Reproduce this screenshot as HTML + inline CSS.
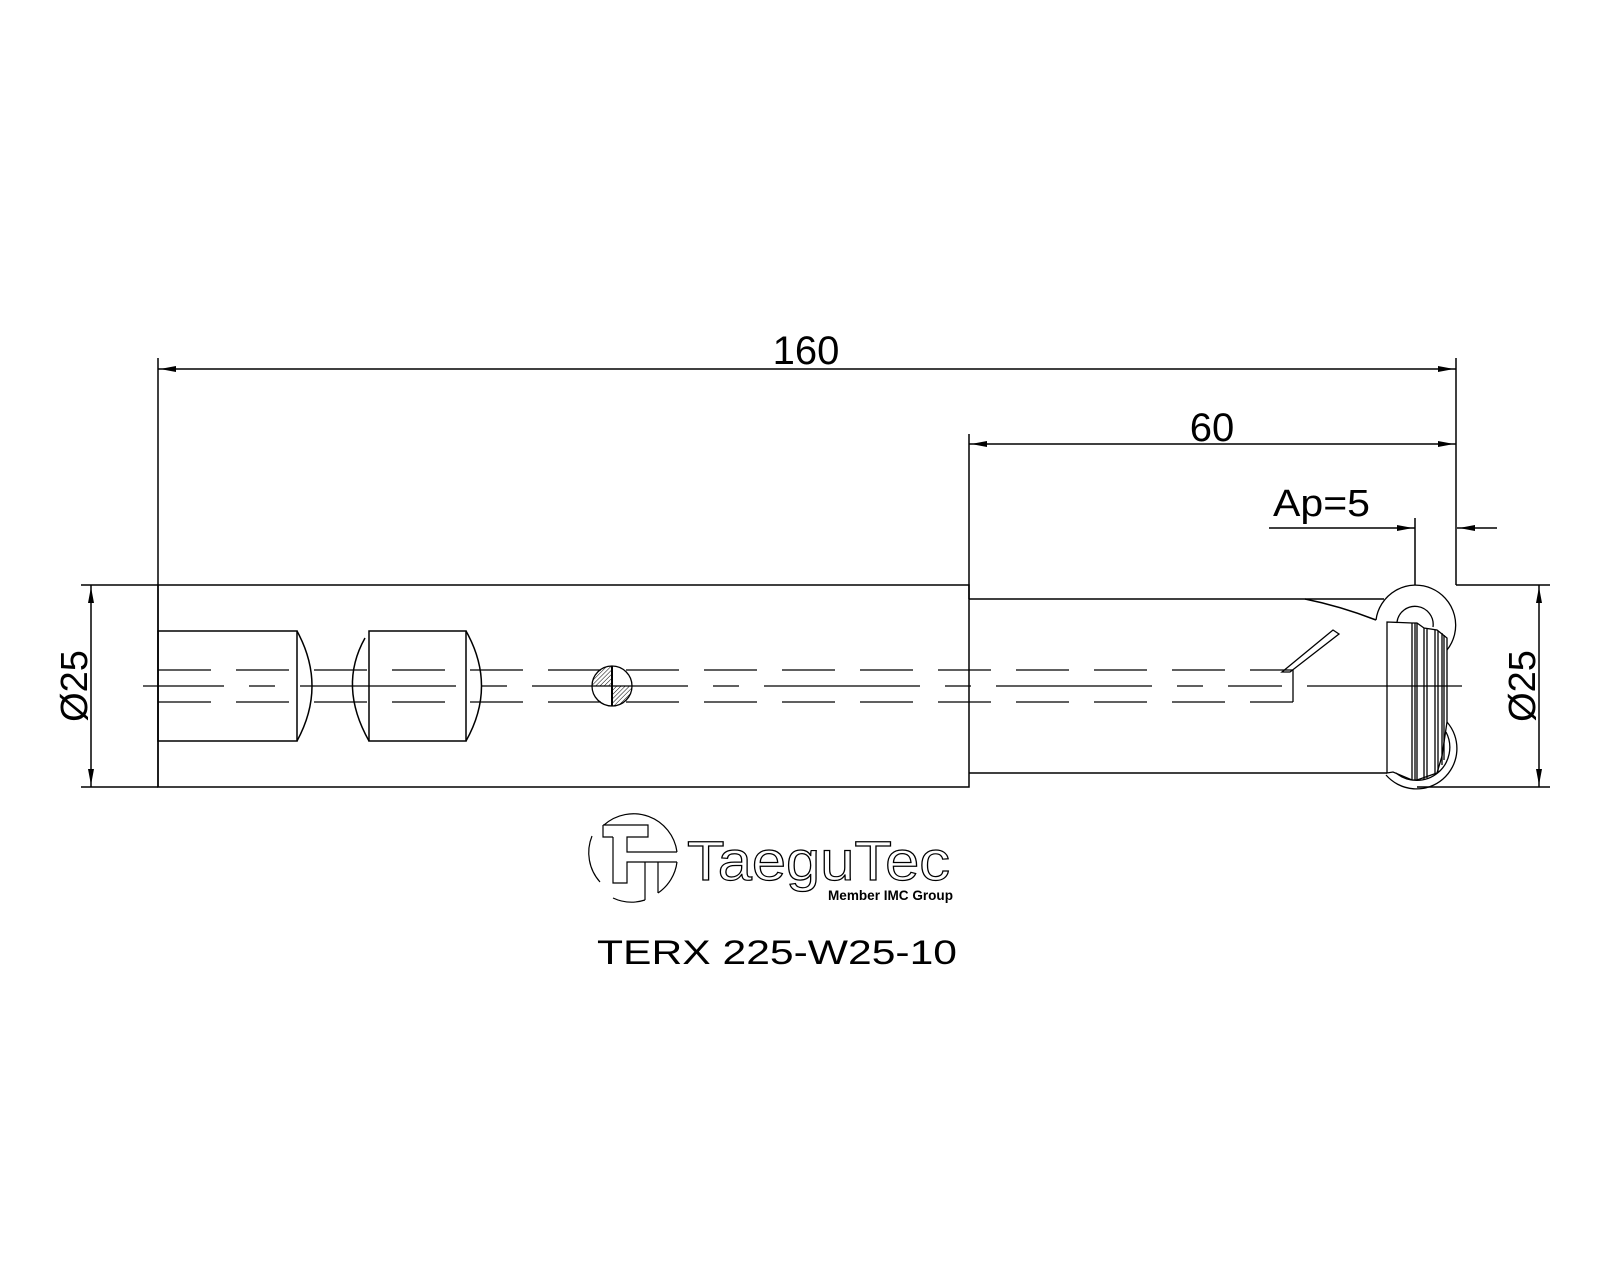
<!DOCTYPE html>
<html><head><meta charset="utf-8"><style>
html,body{margin:0;padding:0;background:#fff;}
svg{display:block;}
text{font-family:"Liberation Sans",Arial,sans-serif;fill:#000;}
</style></head><body>
<svg width="1600" height="1280" viewBox="0 0 1600 1280" xmlns="http://www.w3.org/2000/svg">
<defs>
<pattern id="h" width="3" height="3" patternUnits="userSpaceOnUse" patternTransform="rotate(45)">
<line x1="0" y1="0" x2="0" y2="3" stroke="#000" stroke-width="1"/>
</pattern>
</defs>
<g stroke="#000" stroke-width="1.5" fill="none">
<line x1="158" y1="358" x2="158" y2="787"/>
<line x1="158" y1="369" x2="1456" y2="369"/>
<line x1="1456" y1="358" x2="1456" y2="585"/>
<line x1="1456" y1="585" x2="1550" y2="585"/>
<line x1="969" y1="434" x2="969" y2="599"/>
<line x1="969" y1="444" x2="1456" y2="444"/>
<line x1="1269" y1="528" x2="1415" y2="528"/>
<line x1="1415" y1="518" x2="1415" y2="585"/>
<line x1="1457" y1="528" x2="1497" y2="528"/>
<line x1="81" y1="585" x2="158" y2="585"/>
<line x1="81" y1="787" x2="158" y2="787"/>
<line x1="91" y1="585" x2="91" y2="787"/>
<line x1="1417" y1="787" x2="1550" y2="787"/>
<line x1="1539" y1="585" x2="1539" y2="787"/>
<rect x="158" y="585" width="811" height="202"/>
<line x1="969" y1="599" x2="1384" y2="599"/>
<line x1="969" y1="773" x2="1387" y2="773"/>
<path d="M1305,599 Q1340,606 1376,620"/>
<rect x="158" y="631" width="139" height="110"/>
<path d="M297,631 Q327,686 297,741"/>
<rect x="369" y="631" width="97" height="110"/>
<path d="M369,741 Q338,686 365,638"/>
<path d="M466,631 Q497,686 466,741"/>
</g>
<g stroke="#000" stroke-width="1.3" fill="none">
<line x1="158" y1="670" x2="1293" y2="670" stroke-dasharray="53 25"/>
<line x1="158" y1="702" x2="1293" y2="702" stroke-dasharray="53 25"/>
<line x1="1293" y1="670" x2="1293" y2="702"/>
<line x1="143" y1="686" x2="1282" y2="686" stroke-dasharray="156 25 26 25" stroke-dashoffset="75"/>
<line x1="1307" y1="686" x2="1462" y2="686"/>
</g>
<path d="M612,686 L592,686 A20,20 0 0 1 612,666 Z" fill="url(#h)" stroke="none"/>
<path d="M612,686 L632,686 A20,20 0 0 1 612,706 Z" fill="url(#h)" stroke="none"/>
<circle cx="612" cy="686" r="20" fill="none" stroke="#000" stroke-width="1.3"/>
<line x1="612" y1="666" x2="612" y2="706" stroke="#000" stroke-width="2"/>
<g stroke="#000" stroke-width="1.3" fill="none">
<path d="M1282,672 L1333,630 L1339,634 L1290,672 Z"/>
<path d="M1376,620 A40,40 0 1 1 1447,650"/>
<path d="M1397,622 A18,18 0 1 1 1433,627"/>
<path d="M1447,722 A40,40 0 0 1 1386,775"/>
<path d="M1446,732 A33,33 0 0 1 1396,773"/>
<path d="M1387,622 L1412,623 L1417,623 L1424,628 L1437,630 L1447,638 L1447,722 L1442,756 L1437,773 L1417,780 L1412,780 L1393,772 L1387,773 Z"/>
<line x1="1412" y1="623" x2="1412" y2="780"/>
<line x1="1415" y1="623" x2="1415" y2="780"/>
<line x1="1417" y1="623" x2="1417" y2="780"/>
<line x1="1424" y1="628" x2="1424" y2="779"/>
<line x1="1427" y1="629" x2="1427" y2="778"/>
<line x1="1435" y1="630" x2="1435" y2="774"/>
<line x1="1438" y1="631" x2="1438" y2="772"/>
<line x1="1442" y1="633" x2="1442" y2="765"/>
<line x1="1444" y1="635" x2="1444" y2="760"/>
</g>
<g fill="#000">
<polygon points="160,369 176,366 176,372"/>
<polygon points="1454,369 1438,366 1438,372"/>
<polygon points="971,444 987,441 987,447"/>
<polygon points="1454,444 1438,441 1438,447"/>
<polygon points="1413,528 1397,525 1397,531"/>
<polygon points="1459,528 1475,525 1475,531"/>
<polygon points="91,587 88,603 94,603"/>
<polygon points="91,785 88,769 94,769"/>
<polygon points="1539,587 1536,603 1542,603"/>
<polygon points="1539,785 1536,769 1542,769"/>
</g>
<text x="806" y="364" font-size="40" text-anchor="middle">160</text>
<text x="1212" y="441" font-size="40" text-anchor="middle">60</text>
<text x="1273" y="516" font-size="38" textLength="97" lengthAdjust="spacingAndGlyphs">Ap=5</text>
<text transform="translate(87,686) rotate(-90)" font-size="38" text-anchor="middle">Ø25</text>
<text transform="translate(1535,686) rotate(-90)" font-size="38" text-anchor="middle">Ø25</text>
<g stroke="#000" stroke-width="1.2" fill="none">
<path d="M604,825 A44,44 0 0 1 677,852"/>
<path d="M677,862 A44,44 0 0 1 658,893"/>
<path d="M645,900 A44,44 0 0 1 613,898"/>
<path d="M600,882 A44,44 0 0 1 592,836"/>
<polyline points="603,825 648,825 648,837 627,837 627,852 677,852"/>
<polyline points="613,837 613,883 627,883 627,862 677,862"/>
<polyline points="645,862 645,900"/>
<polyline points="658,862 658,893"/>
<polyline points="603,825 603,837 613,837"/>
</g>
<text x="687" y="880" font-size="56" stroke="#000" stroke-width="1.2" textLength="263" lengthAdjust="spacingAndGlyphs" style="fill:#fff">TaeguTec</text>
<text x="828" y="900" font-size="14" font-weight="bold" textLength="125" lengthAdjust="spacingAndGlyphs">Member IMC Group</text>
<text x="597" y="964" font-size="34" textLength="360" lengthAdjust="spacingAndGlyphs">TERX  225-W25-10</text>
</svg>
</body></html>
